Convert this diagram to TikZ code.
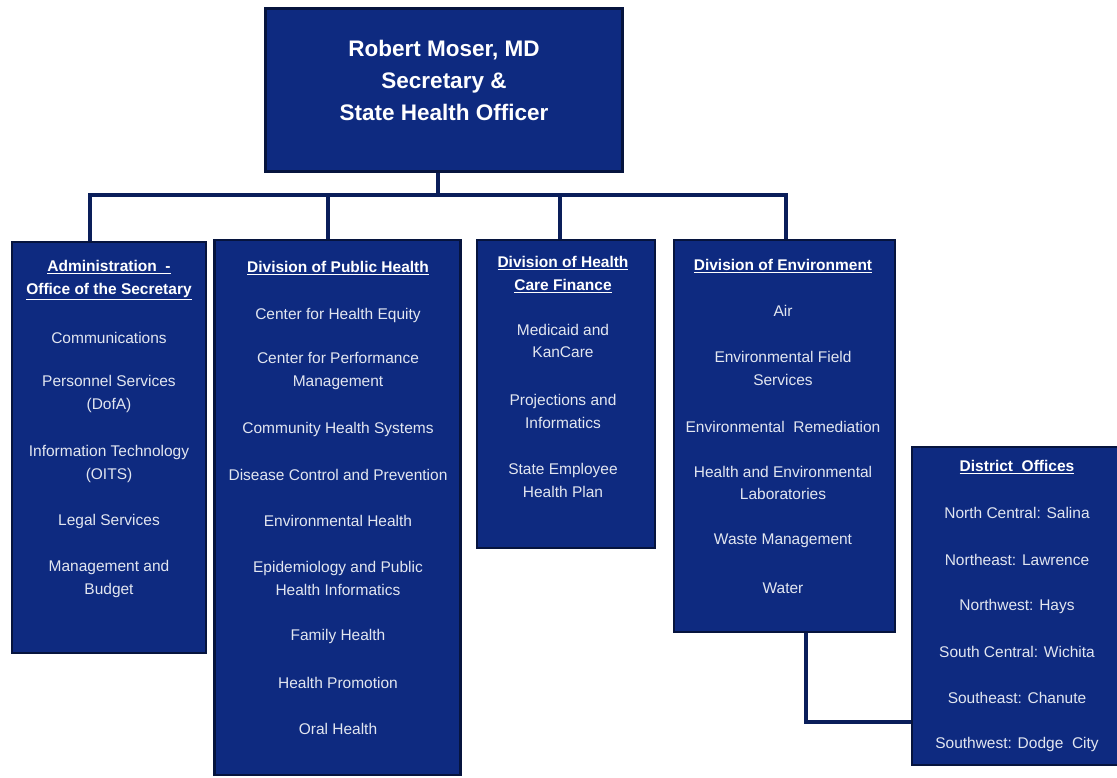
\documentclass[tikz,border=0pt]{standalone}
\usepackage{fontspec}
\setmainfont{Liberation Sans}
\definecolor{navy}{RGB}{14,42,128}
\definecolor{edge}{RGB}{6,20,62}
\definecolor{txt}{RGB}{226,230,240}
\definecolor{line}{RGB}{10,30,90}
\begin{document}
\begin{tikzpicture}[x=1pt,y=-1pt,
  box/.style={rectangle, fill=navy, draw=edge, line width=2.5pt, inner sep=0pt},
  conn/.style={draw=line, line width=4pt},
  item/.style={align=center, text=txt, font=\fontsize{15.5}{22.5}\selectfont, inner sep=0pt},
  head/.style={align=center, text=white, font=\fontsize{15.5}{23.5}\selectfont\bfseries, inner sep=0pt},
  toptxt/.style={align=center, text=white, font=\fontsize{22.5}{32}\selectfont\bfseries, inner sep=0pt}]
\useasboundingbox (0,0) rectangle (1117,778);
% coordinates for connectors
\coordinate (bus) at (438,195);
\coordinate (b1) at (90,195);
\coordinate (b2) at (328,195);
\coordinate (b3) at (560,195);
\coordinate (b4) at (786,195);
\coordinate (elbow) at (806,722);
% box shapes placed first as coordinates for connectors
\path
 node[box, minimum width=357pt, minimum height=163pt] (top) at (444,90) {}
 node[box, minimum width=194pt, minimum height=411pt] (admin) at (109,447.5) {}
 node[box, minimum width=246pt, minimum height=535pt] (ph) at (337.5,507.5) {}
 node[box, minimum width=178pt, minimum height=308pt] (hcf) at (566,394) {}
 node[box, minimum width=221pt, minimum height=392pt] (env) at (784.5,436) {}
 node[box, minimum width=210pt, minimum height=318pt] (dist) at (1017,606) {};
% connectors
\draw[conn] (bus |- top.south) -- (bus);
\draw[conn, line cap=rect] (b1) -- (b4);
\draw[conn] (b1) -- (b1 |- admin.north);
\draw[conn] (b2) -- (b2 |- ph.north);
\draw[conn] (b3) -- (b3 |- hcf.north);
\draw[conn] (b4) -- (b4 |- env.north);
\draw[conn] (elbow |- env.south) |- (elbow -| dist.west);
% redraw boxes over connector ends
\node[box, minimum width=357pt, minimum height=163pt] (topb) at (top) {};
\node[box, minimum width=194pt, minimum height=411pt] (adminb) at (admin) {};
\node[box, minimum width=246pt, minimum height=535pt] (phb) at (ph) {};
\node[box, minimum width=178pt, minimum height=308pt] (hcfb) at (hcf) {};
\node[box, minimum width=221pt, minimum height=392pt] (envb) at (env) {};
\node[box, minimum width=210pt, minimum height=318pt] (distb) at (dist) {};
% top text
\node[toptxt] (toptext) at (444,80) {Robert Moser, MD\\Secretary \&\\State Health Officer};
% admin
\node[head] (ah) at (109,280) {\underline{Administration \ -}\\\underline{Office of the Secretary}};
\node[item] (a1) at (109,338) {Communications};
\node[item] (a2) at (109,394) {Personnel Services\\(DofA)};
\node[item] (a3) at (109,464) {Information Technology\\(OITS)};
\node[item] (a4) at (109,521) {Legal Services};
\node[item] (a5) at (109,579) {Management and\\Budget};
% public health
\node[head] (phh) at (338,268) {\underline{Division of Public Health}};
\node[item] (p1) at (338,315) {Center for Health Equity};
\node[item] (p2) at (338,371) {Center for Performance\\Management};
\node[item] (p3) at (338,429) {Community Health Systems};
\node[item] (p4) at (338,475) {Disease Control and Prevention};
\node[item] (p5) at (338,521) {Environmental Health};
\node[item] (p6) at (338,578.5) {Epidemiology and Public\\Health Informatics};
\node[item] (p7) at (338,636) {Family Health};
\node[item] (p8) at (338,683) {Health Promotion};
\node[item] (p9) at (338,729) {Oral Health};
% health care finance
\node[head] (hh) at (563,274.5) {\underline{Division of Health}\\\underline{Care Finance}};
\node[item] (h1) at (563,341) {Medicaid and\\KanCare};
\node[item] (h2) at (563,411.5) {Projections and\\Informatics};
\node[item] (h3) at (563,480.5) {State Employee\\Health Plan};
% environment
\node[head] (eh) at (783,266) {\underline{Division of Environment}};
\node[item] (e1) at (783,311) {Air};
\node[item] (e2) at (783,368.5) {Environmental Field\\Services};
\node[item] (e3) at (783,427) {Environmental \ Remediation};
\node[item] (e4) at (783,483) {Health and Environmental\\Laboratories};
\node[item] (e5) at (783,541) {Waste Management};
\node[item] (e6) at (783,588) {Water};
% district offices
\node[head] (dh) at (1017,467) {\underline{District \ Offices}};
\node[item] (d1) at (1017,513) {North Central: Salina};
\node[item] (d2) at (1017,560) {Northeast: Lawrence};
\node[item] (d3) at (1017,606) {Northwest: Hays};
\node[item] (d4) at (1017,652) {South Central: Wichita};
\node[item] (d5) at (1017,698) {Southeast: Chanute};
\node[item] (d6) at (1017,744) {Southwest: Dodge \ City};
\end{tikzpicture}
\end{document}
